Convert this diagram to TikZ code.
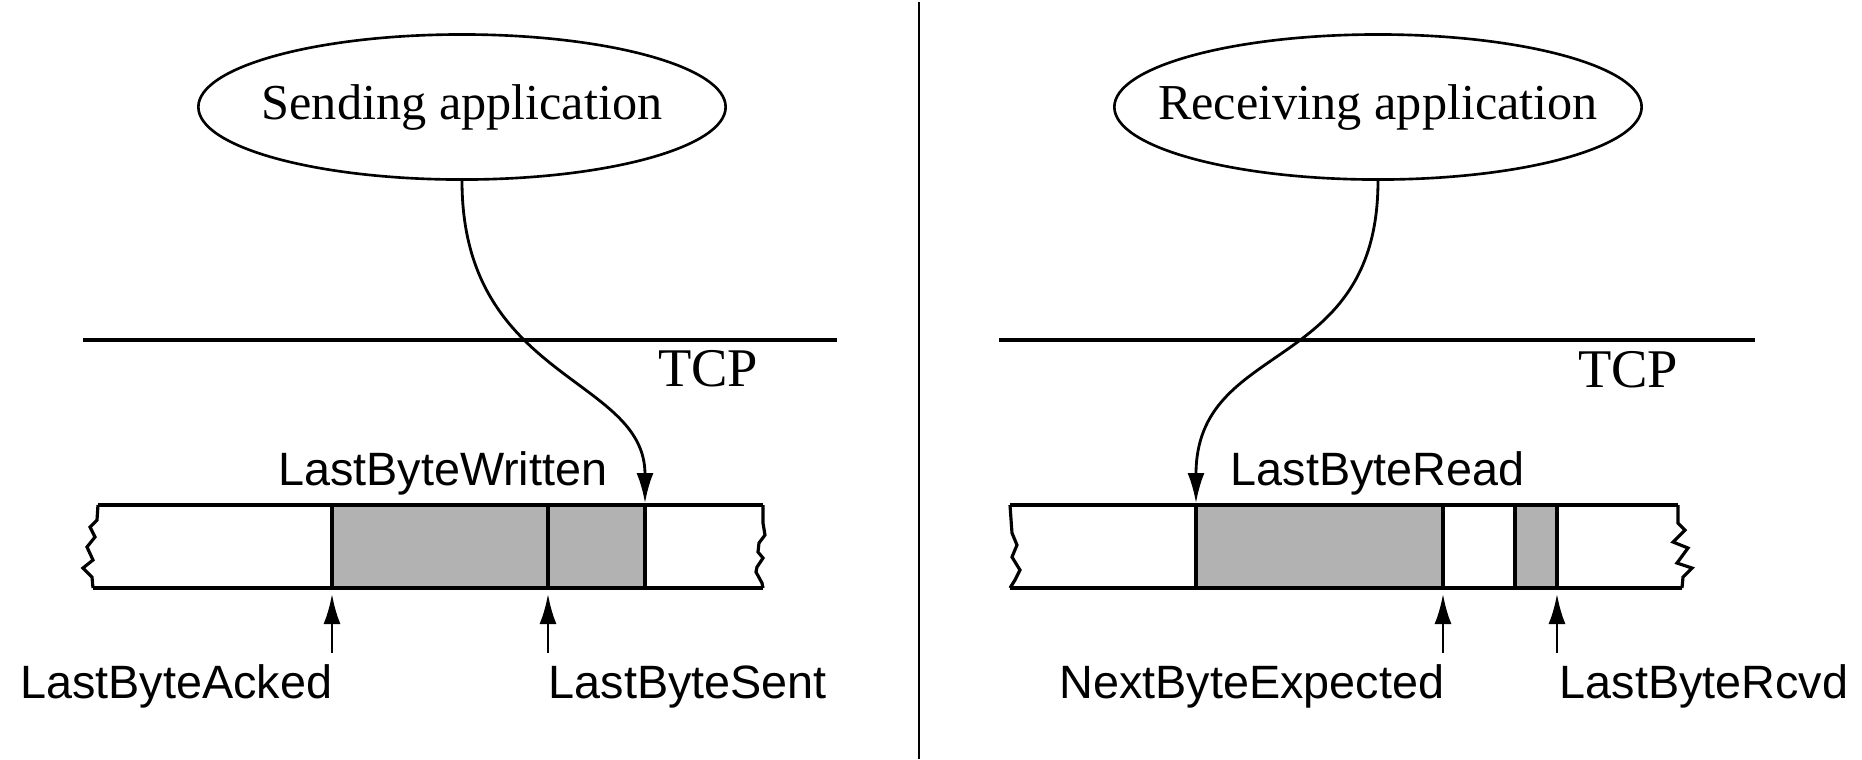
\documentclass[tikz,border=0pt]{standalone}
\usepackage{fontspec}
\setmainfont{Liberation Serif}
\setsansfont{Liberation Sans}
\usetikzlibrary{arrows.meta,calc,shapes.geometric}

\tikzset{
  app/.style={ellipse,draw,line width=0.75pt,minimum width=5.27cm,minimum height=1.45cm,
              inner xsep=-1cm,inner ysep=0pt,font=\fontsize{14.3}{16}\selectfont},
  layer/.style={inner sep=0pt,font=\fontsize{15.5}{17}\selectfont},
  ptrlabel/.style={inner sep=0pt,font=\sffamily\fontsize{13.3}{15}\selectfont},
  buf/.style={line width=0.9pt},
  ptr/.style={-{Latex[length=3mm,width=1.7mm]},line width=0.8pt},
}

\begin{document}
\begin{tikzpicture}[x=0.01cm,y=-0.01cm,line cap=butt,line join=miter]
\useasboundingbox (0,0) rectangle (1862,759);

% 1 unit = 1 pixel of the original, y pointing down
\def\btop{505}
\def\bbot{588}

% separator between sender and receiver
\draw[line width=0.8pt] (919,2) -- (919,759);

% ---- SENDER ----
\node[app] (sapp) at (462,107) {Sending application};
\draw[line width=0.9pt] (83,340) -- (837,340);
\node[layer,anchor=base east] (stcp) at (759,386) {TCP};

% send buffer
\fill[black!30] (332,\btop) rectangle (645,\bbot);
\draw[buf] (98,\btop) -- (763,\btop);
\draw[buf] (93,\bbot) -- (763,\bbot);
\draw[buf] (98,\btop) -- (97,520) -- (90,527) -- (95,537) -- (87,547) -- (93,560)
           -- (83,568) -- (92,577) -- (93,\bbot);
\draw[buf] (763,\btop) -- (763,523) -- (765,535) -- (759,543) -- (758,552) -- (763,558)
           -- (757,567) -- (756,572) -- (762,583) -- (763,\bbot);
\draw[buf] (332,\btop) -- (332,\bbot);
\draw[buf] (548,\btop) -- (548,\bbot);
\draw[buf] (645,\btop) -- (645,\bbot);

% pointers
\coordinate (lbw) at (645,503);
\coordinate (ackedtip) at (332,594);
\coordinate (ackedtail) at (332,653);
\coordinate (senttip) at (548,594);
\coordinate (senttail) at (548,653);

\draw[ptr] (sapp.south) .. controls ($(sapp.south)+(0,200)$) and ($(lbw)+(0,-127)$) .. (lbw);
\node[ptrlabel,anchor=base east] (lbwlabel) at (608,485) {LastByteWritten};

\draw[ptr] (ackedtail) -- (ackedtip);
\draw[ptr] (senttail) -- (senttip);
\node[ptrlabel,anchor=base east] (ackedlabel) at (333,698) {LastByteAcked};
\node[ptrlabel,anchor=base west] (sentlabel) at (548,698) {LastByteSent};

% ---- RECEIVER ----
\node[app] (rapp) at (1378,107) {Receiving application};
\draw[line width=0.9pt] (999,340) -- (1755,340);
\node[layer,anchor=base east] (rtcp) at (1679,387) {TCP};

% receive buffer
\fill[black!30] (1196,\btop) rectangle (1443,\bbot);
\fill[black!30] (1515,\btop) rectangle (1557,\bbot);
\draw[buf] (1010,\btop) -- (1678,\btop);
\draw[buf] (1010,\bbot) -- (1682,\bbot);
\draw[buf] (1010,\btop) -- (1012,533) -- (1017,545) -- (1012,557) -- (1020,570)
           -- (1015,580) -- (1010,\bbot);
\draw[buf] (1678,\btop) -- (1678,523) -- (1685,530) -- (1673,542) -- (1688,548)
           -- (1677,563) -- (1692,568) -- (1683,577) -- (1682,\bbot);
\draw[buf] (1196,\btop) -- (1196,\bbot);
\draw[buf] (1443,\btop) -- (1443,\bbot);
\draw[buf] (1515,\btop) -- (1515,\bbot);
\draw[buf] (1557,\btop) -- (1557,\bbot);

% pointers
\coordinate (lbr) at (1196,503);
\coordinate (nbetip) at (1443,594);
\coordinate (nbetail) at (1443,653);
\coordinate (rcvdtip) at (1557,594);
\coordinate (rcvdtail) at (1557,653);

\draw[ptr] (rapp.south) .. controls ($(rapp.south)+(0,195)$) and ($(lbr)+(0,-165)$) .. (lbr);
\node[ptrlabel,anchor=base west] (lbrlabel) at (1230,485) {LastByteRead};

\draw[ptr] (nbetail) -- (nbetip);
\draw[ptr] (rcvdtail) -- (rcvdtip);
\node[ptrlabel,anchor=base east] (nbelabel) at (1445,698) {NextByteExpected};
\node[ptrlabel,anchor=base west] (rcvdlabel) at (1559,698) {LastByteRcvd};

\end{tikzpicture}
\end{document}
